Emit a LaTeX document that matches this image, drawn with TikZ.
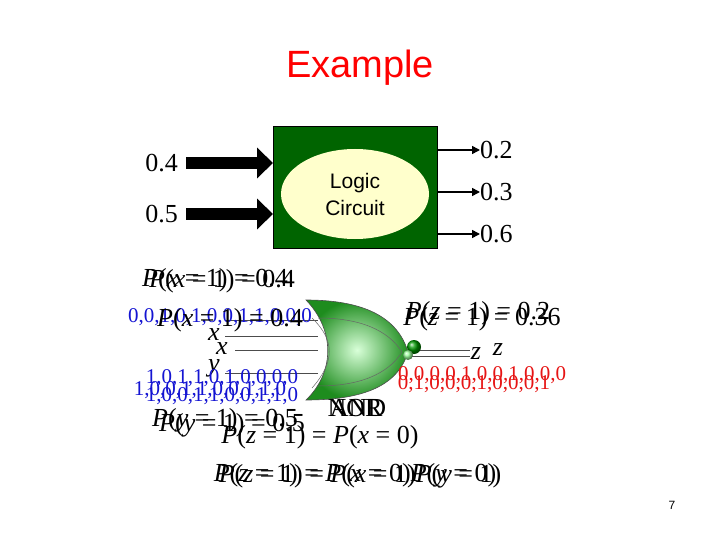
\documentclass[tikz,border=0pt]{standalone}
\usepackage{fontspec}
\setmainfont{Liberation Serif}
\setsansfont{Liberation Sans}
\usetikzlibrary{positioning,arrows.meta,shapes.geometric}
\definecolor{boxgreen}{RGB}{0,100,0}
\definecolor{ovalyellow}{RGB}{255,255,204}
\definecolor{gategreen}{RGB}{30,140,30}
\definecolor{bitblue}{RGB}{20,20,210}
\definecolor{bitred}{RGB}{230,20,20}
\newcommand{\vr}[1]{\textit{#1}}
\tikzset{
  prob/.style={inner sep=0pt, font=\fontsize{26}{28}\selectfont},
  bits/.style={inner sep=0pt, font=\fontsize{21}{22}\selectfont},
  fat/.style={line width=12pt, -{Triangle[length=16pt,width=30pt]}},
  thin/.style={line width=1.5pt, -{Triangle[length=8pt,width=8pt]}},
  wire/.style={line width=0.8pt, gray!60!black},
}
\begin{document}
\begin{tikzpicture}[x=1pt,y=-1pt]
\useasboundingbox (0,0) rectangle (720,540);
% Title
\node[font=\sffamily\fontsize{38}{40}\selectfont, text=red] (title) at (360,68) {Example};
% Logic circuit block
\node[draw, fill=boxgreen, minimum width=164pt, minimum height=122pt] (block) at (355,187) {};
\node[ellipse, fill=ovalyellow, minimum width=148pt, minimum height=90pt, align=center,
      font=\sffamily\fontsize{21}{27}\selectfont] (oval) at (355,194) {Logic\\Circuit};
\node[prob, anchor=east] (pa) at (178,163) {0.4};
\node[prob, anchor=east] (pb) at (178,214) {0.5};
\coordinate (ina) at (273,163);
\coordinate (inb) at (273,214);
\draw[fat] (pa.east) ++(8,0) -- (ina);
\draw[fat] (pb.east) ++(8,0) -- (inb);
\node[prob, anchor=west] (oa) at (480,150) {0.2};
\node[prob, anchor=west] (ob) at (480,192) {0.3};
\node[prob, anchor=west] (oc) at (480,234) {0.6};
\draw[thin] (437,150) -- (oa.west);
\draw[thin] (437,192) -- (ob.west);
\draw[thin] (437,234) -- (oc.west);
% Gate wires
\draw[wire] (225,320) -- (318,320);
\draw[wire] (225,336) -- (318,336);
\draw[wire] (235,350) -- (318,350);
\draw[wire] (225,373) -- (318,373);
\draw[wire] (410,350) -- (470,350);
\draw[wire] (410,356) -- (470,356);
% Gate body
\shade[inner color=green!15!white, outer color=gategreen, draw=black!70, line width=0.6pt]
  (306,300) .. controls (335,330) and (335,372) .. (306,400)
  .. controls (365,400) and (398,385) .. (408,352)
  .. controls (398,318) and (365,300) .. (306,300) -- cycle;
\draw[black!60, line width=0.5pt] (312,318) .. controls (335,340) and (335,362) .. (312,388);
\draw[black!60, line width=0.5pt] (318,318) .. controls (360,318) and (388,330) .. (402,352);
\draw[black!60, line width=0.5pt] (318,386) .. controls (360,386) and (388,374) .. (402,352);
\shade[ball color=green!60!black] (414,347) circle (7pt);
\shade[ball color=green!40!white] (408,355) circle (5pt);
% Labels around the gate
\node[prob] (px1) at (215,280) {\vr{P}(\vr{x} = 1) = 0.4};
\node[prob] (px2) at (222,281) {\vr{P}(\vr{x} = 1) = 0.4};
\node[bits, text=bitblue] (xbits) at (220,317) {0,0,1,0,1,0,0,1,1,0,0,0};
\node[prob] (px3) at (230,320) {\vr{P}(\vr{x} = 1) = 0.4};
\node[prob] (lx1) at (214,335) {\vr{x}};
\node[prob] (lx2) at (222,349) {\vr{x}};
\node[prob] (ly1) at (214,368) {\vr{y}};
\node[bits, text=bitblue] (ybits1) at (222,378) {1,0,1,1,0,1,0,0,0,0};
\node[bits, text=bitblue] (ybits2) at (210,390) {1,0,0,1,1,0,0,1,1,0};
\node[bits, text=bitblue] (ybits3) at (222,396) {1,0,0,1,1,0,0,1,1,0};
\node[prob] (nor) at (355,408) {NOR};
\node[prob] (and) at (358,408) {AND};
\node[prob] (py1) at (225,420) {\vr{P}(\vr{y} = 1) = 0.5};
\node[prob] (py2) at (232,425) {\vr{P}(\vr{y} = 1) = 0.5};
\node[prob] (pz1) at (320,437) {\vr{P}(\vr{z} = 1) = \vr{P}(\vr{x} = 0)};
\node[prob] (pz2) at (355,475) {\vr{P}(\vr{z} = 1) = \vr{P}(\vr{x} = 0)\vr{P}(\vr{y} = 0)};
\node[prob] (pz3) at (360,476) {\vr{P}(\vr{z} = 1) = \vr{P}(\vr{x} = 1)\vr{P}(\vr{y} = 1)};
\node[prob] (pz4) at (478,313) {\vr{P}(\vr{z} = 1) = 0.2};
\node[prob] (pz5) at (482,319) {\vr{P}(\vr{z} = 1) = 0.36};
\node[prob] (lz1) at (476,354) {\vr{z}};
\node[prob] (lz2) at (498,350) {\vr{z}};
\node[bits, text=bitred] (zbits1) at (482,375) {0,0,0,0,1,0,0,1,0,0,0};
\node[bits, text=bitred] (zbits2) at (474,384) {0,1,0,0,0,1,0,0,0,1};
% Page number
\node[font=\sffamily\fontsize{12}{14}\selectfont] (page) at (672,505) {7};
\end{tikzpicture}
\end{document}
